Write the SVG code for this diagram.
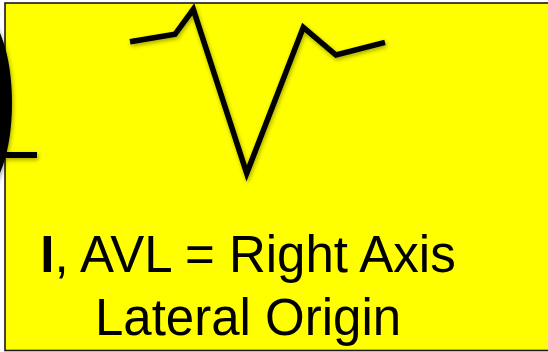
<svg xmlns="http://www.w3.org/2000/svg" width="548" height="352" viewBox="0 0 548 352">
  <defs>
    <filter id="sh" x="-20%" y="-20%" width="140%" height="140%">
      <feDropShadow dx="1" dy="2" stdDeviation="2" flood-color="#000" flood-opacity="0.35"/>
    </filter>
    <style>
      .ink { fill: none; stroke: #000; stroke-width: 5.5; stroke-linejoin: miter; }
      .lbl { font-family: "Liberation Sans", Arial, sans-serif; font-size: 51px; fill: #000; text-anchor: middle; }
    </style>
  </defs>
  <rect x="0" y="0" width="548" height="352" fill="#ffffff"/>
  <g id="panel">
    <rect x="5" y="3" width="560" height="347.5" fill="#ffff00" stroke="#1a1a1a" stroke-width="1.6"/>
  </g>
  <g id="heart" filter="url(#sh)">
    <ellipse cx="-20" cy="103" rx="32" ry="89.6" fill="#000"/>
    <line x1="0" y1="155" x2="37" y2="155" stroke="#000" stroke-width="6"/>
  </g>
  <g id="waveform" filter="url(#sh)">
    <polyline class="ink" points="130,41.7 175,34.3 193.3,9.3 246.7,173.3 303.3,27.3 336,55 385,42.3"/>
  </g>
  <g id="label">
    <text class="lbl" x="248" y="271.5"><tspan font-weight="bold">I</tspan>, AVL = Right Axis</text>
    <text class="lbl" x="248" y="335">Lateral Origin</text>
  </g>
</svg>
